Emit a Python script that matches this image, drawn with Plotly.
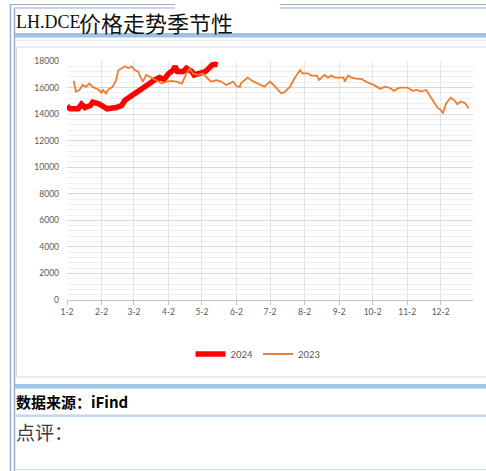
import plotly.graph_objects as go

# ---- data ----
dates_2024 = ["01-02", "01-05", "01-12", "01-15", "01-18", "01-23", "01-25", "01-30",
              "02-03", "02-07", "02-15", "02-20", "02-23", "02-27", "03-03", "03-07",
              "03-12", "03-16", "03-21", "03-25", "03-29", "04-02", "04-06", "04-08",
              "04-10", "04-15", "04-18", "04-23", "04-25", "04-30", "05-05", "05-07",
              "05-11", "05-14", "05-16"]
values_2024 = [14600, 14400, 14400, 14750, 14500, 14650, 14900, 14800,
               14600, 14400, 14500, 14650, 15050, 15300, 15550, 15800,
               16050, 16300, 16600, 16750, 16600, 17050, 17300, 17600,
               17200, 17200, 17450, 17200, 16950, 17050, 17200, 17350,
               17700, 17750, 17700]

dates_2023 = ["01-08", "01-10", "01-13", "01-16", "01-19", "01-22", "01-25", "01-30",
              "02-02", "02-03", "02-06", "02-08", "02-12", "02-15", "02-17", "02-20",
              "02-23", "02-26", "02-29", "03-03", "03-06", "03-07", "03-10", "03-13",
              "03-18", "03-22", "03-27", "03-31", "04-05", "04-09", "04-14", "04-18",
              "04-21", "04-24", "04-28", "05-03", "05-07", "05-10", "05-15", "05-19",
              "05-24", "05-30", "06-02", "06-05", "06-06", "06-12", "06-17", "06-23",
              "06-27", "07-02", "07-06", "07-12", "07-15", "07-20", "07-24", "07-29",
              "07-31", "08-05", "08-08", "08-13", "08-15", "08-20", "08-23", "08-26",
              "08-29", "09-06", "09-07", "09-10", "09-13", "09-18", "09-22", "09-27",
              "10-03", "10-09", "10-13", "10-18", "10-21", "10-25", "10-28", "11-02",
              "11-07", "11-11", "11-14", "11-19", "11-22", "11-26", "11-29", "12-02",
              "12-04", "12-07", "12-11", "12-14", "12-17", "12-20", "12-24", "12-27"]
values_2023 = [16500, 15700, 15800, 16200, 16050, 16300, 16050, 15850,
               15600, 15850, 15550, 15850, 16050, 16550, 17300, 17450,
               17600, 17450, 17600, 17300, 17200, 16950, 16450, 16950,
               16750, 16550, 16300, 16450, 16500, 16450, 16300, 17050,
               17450, 17050, 16950, 17050, 16700, 16450, 16550, 16450,
               16200, 16450, 16100, 16050, 16320, 16750, 16450, 16250,
               16070, 16450, 16130, 15570, 15650, 16070, 16700, 17320,
               17070, 17070, 16900, 16900, 16570, 16950, 16750, 16900,
               16750, 16750, 16450, 16900, 16750, 16650, 16650, 16400,
               16200, 15900, 16070, 15950, 15750, 15950, 16000, 16000,
               15750, 15820, 15700, 15820, 15450, 14950, 14500, 14320,
               14070, 14820, 15240, 15070, 14750, 14950, 14820, 14440]

tick_dates = ["01-02", "02-02", "03-02", "04-02", "05-02", "06-02",
              "07-02", "08-02", "09-02", "10-02", "11-02", "12-02"]
tick_labels = ["1-2", "2-2", "3-2", "4-2", "5-2", "6-2",
               "7-2", "8-2", "9-2", "10-2", "11-2", "12-2"]

BASE_YEAR = "2024"
def to_date(md):
    return BASE_YEAR + "-" + md

# ---- page geometry (pixels) ----
W, H = 486, 471
PL, PR, PT, PB = 67, 473, 61, 300  # plot area

def fx(px):
    return (px - PL) / (PR - PL)

def fy(py):
    return (PB - py) / (PB - PT)

fig = go.Figure()
fig.add_trace(go.Scatter(
    x=[to_date(d) for d in dates_2024], y=values_2024, name="2024",
    mode="lines", line=dict(color="#FF0000", width=5.5), hoverinfo="skip"))
fig.add_trace(go.Scatter(
    x=[to_date(d) for d in dates_2023], y=values_2023, name="2023",
    mode="lines", line=dict(color="#ED7D31", width=1.8), hoverinfo="skip"))

tick_font = dict(family="Lato, Liberation Sans, sans-serif", size=8.5, color="#595959")

fig.update_xaxes(
    type="date", range=[to_date("01-02"), to_date("12-31")],
    tickmode="array", tickvals=[to_date(d) for d in tick_dates], ticktext=tick_labels,
    showgrid=True, gridcolor="#E4E4E4", gridwidth=1,
    showline=True, linecolor="#BFBFBF", linewidth=1,
    ticks="outside", ticklen=4, tickcolor="#BFBFBF",
    tickfont=tick_font, zeroline=False, fixedrange=True)
fig.update_yaxes(
    range=[0, 18000], dtick=2000, tick0=0, tickformat="d",
    showgrid=True, gridcolor="#D9D9D9", gridwidth=1,
    minor=dict(dtick=400, showgrid=True, gridcolor="#EFEFEF", gridwidth=1),
    showline=False, zeroline=False, ticks="",
    ticklabelstandoff=7, tickfont=tick_font, fixedrange=True)

shapes = []
def hline(y, x0, x1, color, width):
    shapes.append(dict(type="line", xref="paper", yref="paper",
                       x0=fx(x0), x1=fx(x1), y0=fy(y), y1=fy(y),
                       line=dict(color=color, width=width), layer="above"))
def vline(x, y0, y1, color, width):
    shapes.append(dict(type="line", xref="paper", yref="paper",
                       x0=fx(x), x1=fx(x), y0=fy(y0), y1=fy(y1),
                       line=dict(color=color, width=width), layer="above"))

border = "#9AAEC8"
# top double rule (split)
hline(4.5, 10, 175, border, 1.2)
hline(8, 14, 175, border, 1.2)
hline(4.5, 280, 486, border, 1.2)
hline(8, 280, 486, border, 1.2)
# left double rule
vline(10.5, 4, 471, border, 1.5)
vline(14.5, 8, 471, border, 1.5)
# blue band under title
shapes.append(dict(type="rect", xref="paper", yref="paper",
                   x0=fx(15), x1=fx(486), y0=fy(33), y1=fy(37.5),
                   line=dict(width=0), fillcolor="#9DC3E6", layer="above"))
hline(40.5, 15, 486, "#E3EAF2", 1)
# chart frame
shapes.append(dict(type="rect", xref="paper", yref="paper",
                   x0=fx(16.5), x1=fx(492), y0=fy(47), y1=fy(377),
                   line=dict(color="#D9D9D9", width=1), fillcolor="rgba(0,0,0,0)",
                   layer="below"))
# blue band above source
shapes.append(dict(type="rect", xref="paper", yref="paper",
                   x0=fx(15), x1=fx(486), y0=fy(384), y1=fy(388.5),
                   line=dict(width=0), fillcolor="#9DC3E6", layer="above"))
# thin band under source
shapes.append(dict(type="rect", xref="paper", yref="paper",
                   x0=fx(15), x1=fx(486), y0=fy(414.5), y1=fy(417),
                   line=dict(width=0), fillcolor="#BDD7EE", layer="above"))
hline(469.5, 15, 486, "#D6E0EC", 1)

annotations = [
    dict(text="LH.DCE", xref="paper", yref="paper", x=fx(14), y=fy(22.5),
         xanchor="left", yanchor="middle", showarrow=False,
         font=dict(family="Liberation Serif, serif", size=18, color="#111111")),
    dict(text="价格走势季节性", xref="paper", yref="paper", x=fx(77), y=fy(22),
         xanchor="left", yanchor="middle", showarrow=False,
         font=dict(family="Noto Sans CJK SC", size=22, color="#111111")),
    dict(text="<b>数据来源：iFind</b>", xref="paper", yref="paper", x=fx(14), y=fy(401.5),
         xanchor="left", yanchor="middle", showarrow=False,
         font=dict(family="Noto Sans CJK SC", size=15, color="#000000")),
    dict(text="点评：", xref="paper", yref="paper", x=fx(14), y=fy(431),
         xanchor="left", yanchor="middle", showarrow=False,
         font=dict(family="Noto Sans CJK SC", size=19, color="#3A3A3A")),
]

fig.update_layout(
    width=W, height=H,
    margin=dict(l=PL, r=W - PR, t=PT, b=H - PB, autoexpand=False),
    paper_bgcolor="white", plot_bgcolor="white",
    shapes=shapes, annotations=annotations,
    showlegend=True,
    legend=dict(orientation="h", x=fx(258), y=fy(354), xanchor="center", yanchor="middle",
                font=dict(family="Lato, Liberation Sans, sans-serif", size=9.5, color="#595959"),
                bgcolor="rgba(0,0,0,0)", itemwidth=30, tracegroupgap=0,
                itemclick=False, itemdoubleclick=False),
)

fig.write_html("out.html", config={"displayModeBar": False},
               post_script="document.body.style.margin='0';document.body.style.overflow='hidden';")
